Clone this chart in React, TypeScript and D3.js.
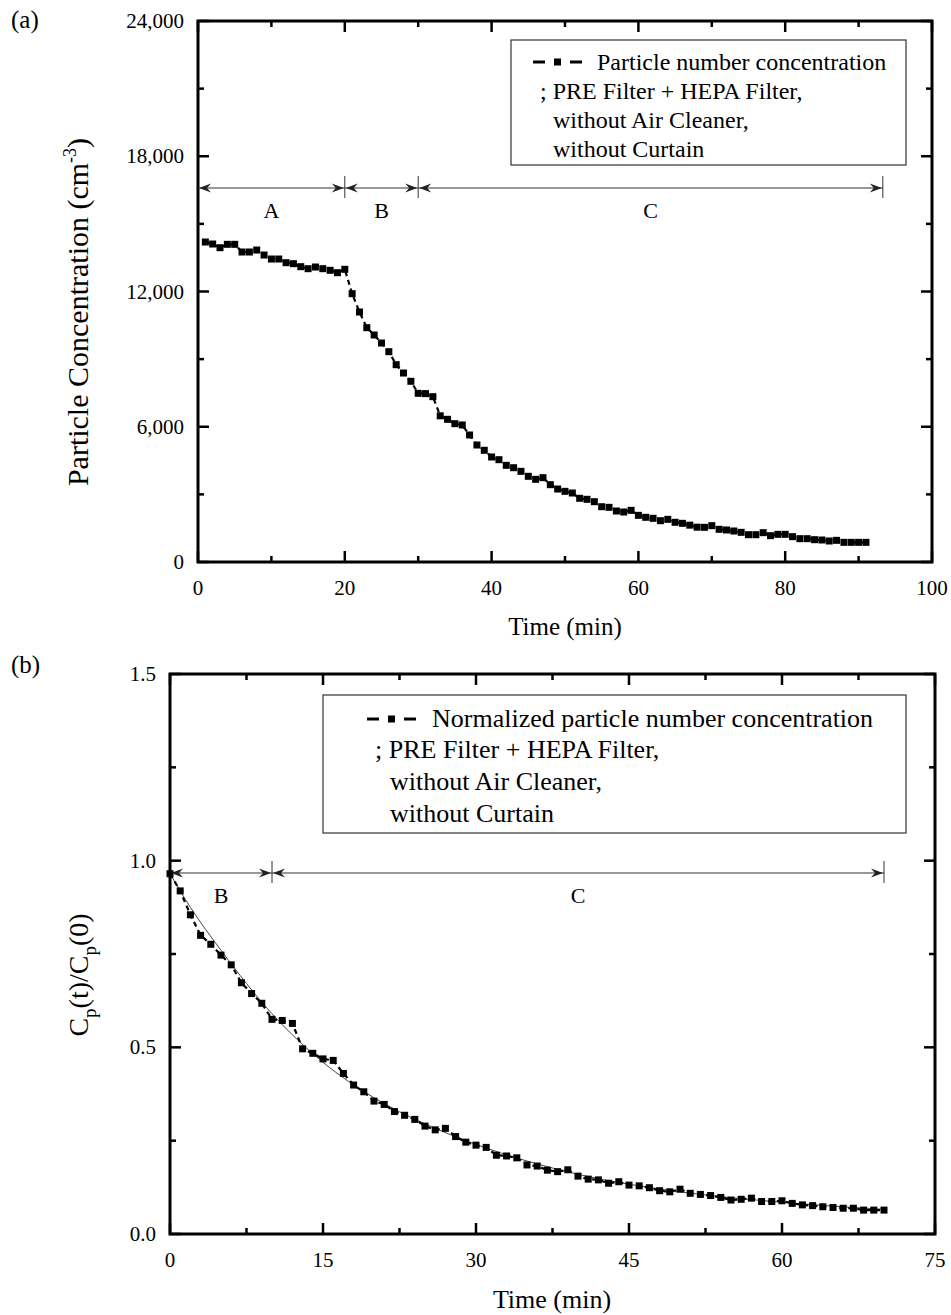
import React, { useEffect, useRef } from 'react';
import * as d3 from 'd3';

// ---- panel (a) data: particle number concentration (cm^-3) vs time (min)
const timeA = [
  1, 2, 3, 4, 5, 6, 7, 8, 9, 10, 11, 12, 13, 14, 15, 16, 17, 18, 19, 20,
  21, 22, 23, 24, 25, 26, 27, 28, 29, 30, 31, 32, 33, 34, 35, 36, 37, 38, 39, 40,
  41, 42, 43, 44, 45, 46, 47, 48, 49, 50, 51, 52, 53, 54, 55, 56, 57, 58, 59, 60,
  61, 62, 63, 64, 65, 66, 67, 68, 69, 70, 71, 72, 73, 74, 75, 76, 77, 78, 79, 80,
  81, 82, 83, 84, 85, 86, 87, 88, 89, 90, 91,
];
const concA = [
  14195, 14107, 13943, 14093, 14093, 13752, 13752, 13840, 13618, 13441,
  13441, 13278, 13234, 13101, 13012, 13086, 13012, 12940, 12834, 12984,
  11902, 11090, 10394, 10070, 9715, 9330, 8753, 8384, 8016, 7483,
  7470, 7335, 6485, 6330, 6136, 6078, 5634, 5190, 4955, 4658,
  4539, 4289, 4183, 4023, 3801, 3668, 3741, 3430, 3238, 3135,
  3061, 2826, 2781, 2675, 2453, 2425, 2262, 2218, 2292, 2070,
  1983, 1938, 1832, 1892, 1761, 1716, 1635, 1545, 1538, 1612,
  1450, 1420, 1375, 1316, 1212, 1212, 1301, 1168, 1227, 1227,
  1124, 1035, 1035, 990, 976, 932, 961, 872, 872, 872, 872,
];
const xTicksA = [0, 20, 40, 60, 80, 100];
const yTicksA = [0, 6000, 12000, 18000, 24000];
const phaseBoundsA = [0, 20, 30, 93.3];
const phaseLabelsA = ['A', 'B', 'C'];

// ---- panel (b) data: normalized concentration vs time (min)
const timeB = [
  0, 1, 2, 3, 4, 5, 6, 7, 8, 9, 10, 11, 12, 13, 14, 15, 16, 17, 18, 19, 20,
  21, 22, 23, 24, 25, 26, 27, 28, 29, 30, 31, 32, 33, 34, 35, 36, 37, 38, 39, 40,
  41, 42, 43, 44, 45, 46, 47, 48, 49, 50, 51, 52, 53, 54, 55, 56, 57, 58, 59, 60,
  61, 62, 63, 64, 65, 66, 67, 68, 69, 70,
];
const normB = [
  0.965, 0.919, 0.855, 0.8, 0.776, 0.747, 0.721, 0.673, 0.644, 0.618, 0.575,
  0.572, 0.564, 0.496, 0.484, 0.469, 0.465, 0.43, 0.399, 0.381, 0.356,
  0.347, 0.328, 0.318, 0.307, 0.289, 0.279, 0.283, 0.261, 0.246, 0.238,
  0.232, 0.211, 0.209, 0.204, 0.185, 0.182, 0.171, 0.167, 0.172, 0.155,
  0.147, 0.145, 0.136, 0.14, 0.131, 0.129, 0.124, 0.116, 0.113, 0.12,
  0.109, 0.106, 0.103, 0.098, 0.091, 0.093, 0.096, 0.087, 0.087, 0.089,
  0.082, 0.078, 0.076, 0.073, 0.071, 0.069, 0.069, 0.064, 0.064, 0.064,
];
// thin fitted curve
const fitTimeB = [0, 2, 5, 10, 15, 20, 25, 30, 40, 50, 60, 70];
const fitNormB = [0.965, 0.875, 0.76, 0.59, 0.46, 0.365, 0.295, 0.24, 0.16, 0.113, 0.085, 0.066];
const xTicksB = [0, 15, 30, 45, 60, 75];
const yTicksB = [0, 0.5, 1.0, 1.5];
const phaseBoundsB = [0, 10, 70];
const phaseLabelsB = ['B', 'C'];

const legendLinesA = [
  'Particle number concentration',
  '; PRE Filter + HEPA Filter,',
  'without Air Cleaner,',
  'without Curtain',
];
const legendLinesB = [
  'Normalized particle number concentration',
  '; PRE Filter + HEPA Filter,',
  'without Air Cleaner,',
  'without Curtain',
];

const FONT = "'Liberation Serif', 'Times New Roman', serif";

const App = () => {
  const svgRef = useRef<SVGSVGElement>(null);

  useEffect(() => {
    const svg = d3.select(svgRef.current);
    svg.selectAll('*').remove();

    // Draws frame, inward ticks on all four sides and tick labels
    const drawFrame = (g, x, y, xMajor, yMajor, xMinorStep, yMinorStep, yFmt, fs) => {
      const [x0, x1] = x.range();
      const [y0, y1] = y.range(); // y0 = bottom
      const xDom = x.domain();
      const yDom = y.domain();
      const xMinor = d3.range(xDom[0], xDom[1] + 1e-9, xMinorStep);
      const yMinor = d3.range(yDom[0], yDom[1] + 1e-9, yMinorStep);
      xMinor.forEach(v => {
        const major = xMajor.some(m => Math.abs(m - v) < 1e-9);
        const len = major ? 11 : 6;
        g.append('line').attr('x1', x(v)).attr('x2', x(v)).attr('y1', y0).attr('y2', y0 - len)
          .attr('stroke', 'black').attr('stroke-width', 2.5);
        g.append('line').attr('x1', x(v)).attr('x2', x(v)).attr('y1', y1).attr('y2', y1 + len)
          .attr('stroke', 'black').attr('stroke-width', 2.5);
      });
      yMinor.forEach(v => {
        const major = yMajor.some(m => Math.abs(m - v) < 1e-9);
        const len = major ? 11 : 6;
        g.append('line').attr('x1', x0).attr('x2', x0 + len).attr('y1', y(v)).attr('y2', y(v))
          .attr('stroke', 'black').attr('stroke-width', 2.5);
        g.append('line').attr('x1', x1).attr('x2', x1 - len).attr('y1', y(v)).attr('y2', y(v))
          .attr('stroke', 'black').attr('stroke-width', 2.5);
      });
      g.append('rect').attr('x', x0).attr('y', y1).attr('width', x1 - x0).attr('height', y0 - y1)
        .attr('fill', 'none').attr('stroke', 'black').attr('stroke-width', 3);

      g.selectAll(null).data(xMajor).enter().append('text')
        .attr('x', d => x(d)).attr('y', y0 + 33)
        .attr('text-anchor', 'middle').attr('font-size', fs).attr('font-family', FONT)
        .text(d => d);
      g.selectAll(null).data(yMajor).enter().append('text')
        .attr('x', x0 - 14).attr('y', d => y(d) + 7)
        .attr('text-anchor', 'end').attr('font-size', fs).attr('font-family', FONT)
        .text(d => yFmt(d));
    };

    const arrowHead = (g, tipX, yy, dir) => {
      // dir = -1 points left, +1 points right
      const p = d3.path();
      p.moveTo(tipX, yy);
      p.lineTo(tipX - dir * 12, yy - 4.5);
      p.lineTo(tipX - dir * 8, yy);
      p.lineTo(tipX - dir * 12, yy + 4.5);
      p.closePath();
      g.append('path').attr('d', p.toString()).attr('fill', '#222');
    };

    const drawPhases = (g, x, yy, bounds, labels, fs) => {
      for (let i = 0; i < labels.length; i++) {
        const a = x(bounds[i]);
        const b = x(bounds[i + 1]);
        g.append('line').attr('x1', a).attr('x2', b).attr('y1', yy).attr('y2', yy)
          .attr('stroke', '#333').attr('stroke-width', 1);
        arrowHead(g, a + 1, yy, -1);
        arrowHead(g, b - 1, yy, 1);
        g.append('text').attr('x', (a + b) / 2).attr('y', yy + 30)
          .attr('text-anchor', 'middle').attr('font-size', fs).attr('font-family', FONT)
          .text(labels[i]);
      }
      bounds.slice(1).forEach(v => {
        g.append('line').attr('x1', x(v)).attr('x2', x(v)).attr('y1', yy - 12).attr('y2', yy + 10)
          .attr('stroke', '#333').attr('stroke-width', 1);
      });
    };

    const drawSeries = (g, x, y, xs, ys) => {
      const pts = xs.map((t, i) => [x(t), y(ys[i])]);
      g.append('path')
        .attr('d', d3.line()(pts as [number, number][]))
        .attr('fill', 'none').attr('stroke', 'black').attr('stroke-width', 2.2)
        .attr('stroke-dasharray', '5,4');
      g.selectAll(null).data(pts).enter().append('rect')
        .attr('x', d => d[0] - 3.5).attr('y', d => d[1] - 3.5)
        .attr('width', 7).attr('height', 7).attr('fill', 'black');
    };

    const drawLegend = (g, bx, by, bw, bh, lines, symX, textX, semiX, indentX, baselines, fs) => {
      g.append('rect').attr('x', bx).attr('y', by).attr('width', bw).attr('height', bh)
        .attr('fill', 'white').attr('stroke', '#333').attr('stroke-width', 1.2);
      const sy = baselines[0] - 8;
      g.append('line').attr('x1', symX).attr('x2', symX + 12).attr('y1', sy).attr('y2', sy)
        .attr('stroke', 'black').attr('stroke-width', 3);
      g.append('rect').attr('x', symX + 21).attr('y', sy - 3.5).attr('width', 7).attr('height', 7).attr('fill', 'black');
      g.append('line').attr('x1', symX + 37).attr('x2', symX + 49).attr('y1', sy).attr('y2', sy)
        .attr('stroke', 'black').attr('stroke-width', 3);
      const xs = [textX, semiX, indentX, indentX];
      lines.forEach((t, i) => {
        g.append('text').attr('x', xs[i]).attr('y', baselines[i])
          .attr('font-size', fs).attr('font-family', FONT).text(t);
      });
    };

    // ---------------- panel (a)
    const gA = svg.append('g');
    const xA = d3.scaleLinear().domain([0, 100]).range([198, 932]);
    const yA = d3.scaleLinear().domain([0, 24000]).range([562, 21]);
    drawFrame(gA, xA, yA, xTicksA, yTicksA, 10, 3000, d3.format(','), 21);
    drawLegend(gA, 511, 40, 395, 125, legendLinesA, 533, 597, 540, 553, [70, 99, 128, 157], 24);
    drawPhases(gA, xA, 188, phaseBoundsA, phaseLabelsA, 22);
    drawSeries(gA, xA, yA, timeA, concA);

    gA.append('text').attr('x', 11).attr('y', 28).attr('font-size', 25).attr('font-family', FONT).text('(a)');
    gA.append('text').attr('x', 565).attr('y', 635).attr('text-anchor', 'middle')
      .attr('font-size', 25).attr('font-family', FONT).text('Time (min)');
    const ylA = gA.append('text').attr('transform', 'translate(88,312) rotate(-90)')
      .attr('text-anchor', 'middle').attr('font-size', 30).attr('font-family', FONT);
    ylA.append('tspan').text('Particle Concentration (cm');
    ylA.append('tspan').attr('dy', -12).attr('font-size', 18).text('-3');
    ylA.append('tspan').attr('dy', 12).text(')');

    // ---------------- panel (b)
    const gB = svg.append('g');
    const xB = d3.scaleLinear().domain([0, 75]).range([170, 935]);
    const yB = d3.scaleLinear().domain([0, 1.5]).range([1234, 674]);
    drawFrame(gB, xB, yB, xTicksB, yTicksB, 7.5, 0.25, d3.format('.1f'), 21);
    drawLegend(gB, 323, 695, 583, 138, legendLinesB, 367, 432, 375, 390, [727, 758, 790, 822], 26);
    drawPhases(gB, xB, yB(0.967), phaseBoundsB, phaseLabelsB, 22);
    gB.append('path')
      .attr('d', d3.line().curve(d3.curveMonotoneX)(fitTimeB.map((t, i) => [xB(t), yB(fitNormB[i])]) as [number, number][]))
      .attr('fill', 'none').attr('stroke', '#444').attr('stroke-width', 1);
    drawSeries(gB, xB, yB, timeB, normB);

    gB.append('text').attr('x', 11).attr('y', 673).attr('font-size', 25).attr('font-family', FONT).text('(b)');
    gB.append('text').attr('x', 552).attr('y', 1308).attr('text-anchor', 'middle')
      .attr('font-size', 26).attr('font-family', FONT).text('Time (min)');
    const ylB = gB.append('text').attr('transform', 'translate(88,975) rotate(-90)')
      .attr('text-anchor', 'middle').attr('font-size', 28).attr('font-family', FONT);
    ylB.append('tspan').text('C');
    ylB.append('tspan').attr('dy', 8).attr('font-size', 19).text('p');
    ylB.append('tspan').attr('dy', -8).text('(t)/C');
    ylB.append('tspan').attr('dy', 8).attr('font-size', 19).text('p');
    ylB.append('tspan').attr('dy', -8).text('(0)');
  }, []);

  return (
    <svg
      ref={svgRef}
      width={951}
      height={1315}
      style={{ position: 'absolute', left: 0, top: 0, background: 'white' }}
    />
  );
};

export default App;
